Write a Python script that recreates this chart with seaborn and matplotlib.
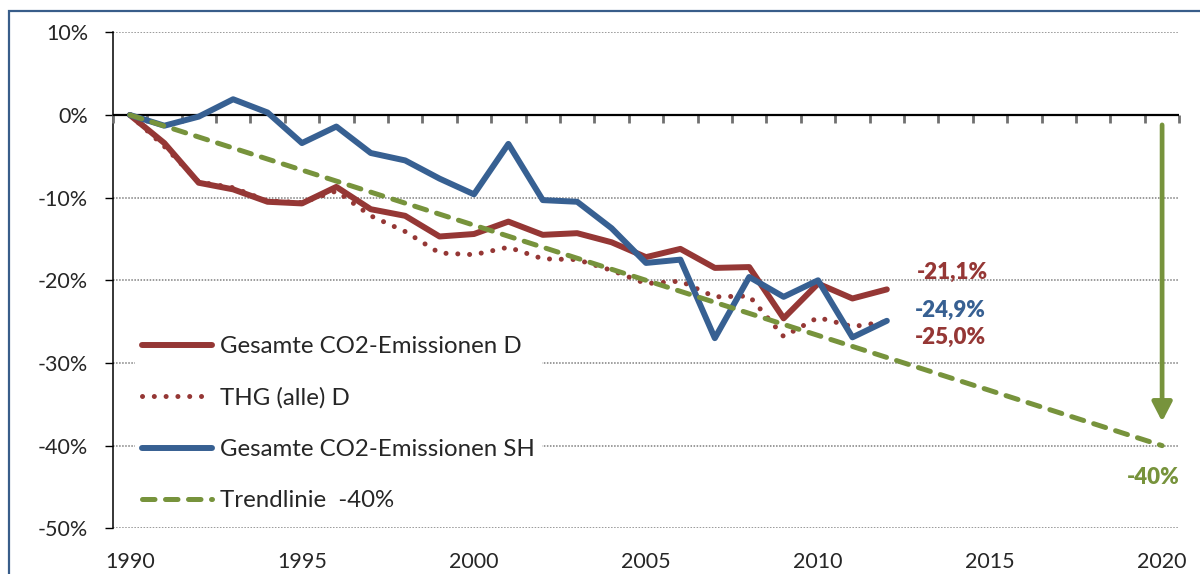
import matplotlib
matplotlib.use("Agg")
import matplotlib.pyplot as plt
import seaborn as sns
import pandas as pd
from matplotlib.patches import Rectangle
from matplotlib.ticker import FuncFormatter

# ---------------- data ----------------
years = list(range(1990, 2013))
co2_d = [0.0, -3.4, -8.2, -9.0, -10.5, -10.7, -8.7, -11.4, -12.2, -14.7, -14.4, -12.9,
         -14.5, -14.3, -15.4, -17.2, -16.2, -18.5, -18.4, -24.6, -20.4, -22.2, -21.1]
thg_d = [0.0, -3.8, -8.1, -8.8, -10.4, -10.6, -9.2, -12.2, -14.1, -16.7, -16.9, -16.0,
         -17.4, -17.5, -18.8, -20.4, -20.1, -22.0, -21.9, -26.8, -24.5, -25.6, -25.0]
co2_sh = [0.0, -1.3, -0.2, 1.9, 0.3, -3.4, -1.4, -4.6, -5.5, -7.7, -9.6, -3.5,
          -10.3, -10.5, -13.7, -17.9, -17.5, -27.0, -19.6, -22.0, -20.0, -26.9, -24.9]
trend_years = [1990, 2020]
trend_vals = [0.0, -40.0]

series_labels = ["Gesamte CO2-Emissionen D", "THG (alle) D",
                 "Gesamte CO2-Emissionen SH", "Trendlinie  -40%"]
end_labels = ["-21,1%", "-24,9%", "-25,0%", "-40%"]
x_ticks = [1990, 1995, 2000, 2005, 2010, 2015, 2020]
y_ticks = [-50, -40, -30, -20, -10, 0, 10]
target = -40.0

RED = "#953735"
BLUE = "#376092"
GREEN = "#77933C"

sns.set_theme(style="white")
plt.rcParams["font.family"] = ["Lato", "DejaVu Sans"]

fig = plt.figure(figsize=(12, 5.74), dpi=100)
ax = fig.add_axes([112.7 / 1200, 1 - 528.3 / 574, (1179.3 - 112.7) / 1200, (528.3 - 32.3) / 574])

df = pd.DataFrame({"year": years, "co2_d": co2_d, "thg_d": thg_d, "co2_sh": co2_sh})
tdf = pd.DataFrame({"year": trend_years, "val": trend_vals})

ax.set_xlim(1989.5, 2020.5)
ax.set_ylim(-50, 10)

# horizontal category axis at 0 % with tick marks between categories (drawn first)
boundaries = [years[0] - 0.5 + i for i in range(trend_years[-1] - years[0] + 2)]
ax.vlines(boundaries, -1.0, 0.0, colors="#707070", linewidths=2.0, zorder=2.6, clip_on=False)
ax.hlines([0.0], trend_years[0] - 0.5, trend_years[-1] + 0.5,
          colors="black", linewidths=1.6, zorder=2.7, clip_on=False)

sns.lineplot(data=df, x="year", y="co2_d", ax=ax, color=RED, lw=4.3,
             solid_capstyle="round", solid_joinstyle="round", label=series_labels[0], zorder=3)
sns.lineplot(data=df, x="year", y="thg_d", ax=ax, color=RED, lw=3.6,
             label=series_labels[1], zorder=3)
sns.lineplot(data=df, x="year", y="co2_sh", ax=ax, color=BLUE, lw=4.3,
             solid_capstyle="round", solid_joinstyle="round", label=series_labels[2], zorder=4)
sns.lineplot(data=tdf, x="year", y="val", ax=ax, color=GREEN, lw=3.6,
             label=series_labels[3], zorder=5)

lines = ax.get_lines()
lines[1].set_linestyle((0, (0.01, 2.35)))
lines[1].set_dash_capstyle("round")
lines[3].set_linestyle((0, (2.5, 2.1)))
lines[3].set_dash_capstyle("round")

ax.set_xlim(1989.5, 2020.5)
ax.set_ylim(-50, 10)
ax.set_xlabel("")
ax.set_ylabel("")

ax.set_yticks(y_ticks)
ax.yaxis.set_major_formatter(FuncFormatter(lambda v, p: f"{v:.0f}%"))
ax.set_xticks(x_ticks)
ax.set_xticklabels([str(t) for t in x_ticks])
ax.tick_params(axis="y", direction="out", length=5.8, width=1, color="black",
               labelsize=15.5, pad=12, left=True)
ax.tick_params(axis="x", length=0, labelsize=15.5, pad=17, bottom=True)

for s in ["top", "right", "bottom"]:
    ax.spines[s].set_visible(False)
ax.spines["left"].set_color("black")
ax.spines["left"].set_linewidth(1.1)

ax.yaxis.grid(True, linestyle=(0, (1, 1)), color="#7f7f7f", lw=1.1)
ax.xaxis.grid(False)
ax.set_axisbelow(True)

# legend
leg = ax.legend(loc="upper left", bbox_to_anchor=(0.0207, 0.402), frameon=True,
                fontsize=17.3, handlelength=2.9, handletextpad=0.33, labelspacing=1.26,
                borderpad=0.3, borderaxespad=0.0)
leg.get_frame().set_facecolor("white")
leg.get_frame().set_edgecolor("none")
leg.get_frame().set_alpha(1)
leg.set_zorder(10)

# end-value labels
lab_kw = dict(fontsize=16, fontweight="heavy", ha="center", va="center")
ax.text(2013.9, -19.1, end_labels[0], color=RED, **lab_kw)
ax.text(2013.85, -23.6, end_labels[1], color=BLUE, **lab_kw)
ax.text(2013.85, -26.85, end_labels[2], color=RED, **lab_kw)
ax.text(2019.74, -43.8, end_labels[3], color=GREEN, **lab_kw)

# arrow to target
ax.annotate("", xy=(trend_years[-1], target + 2.9), xytext=(trend_years[-1], -1.2),
            arrowprops=dict(arrowstyle="-|>,head_length=0.58,head_width=0.3",
                            lw=3.4, color=GREEN, shrinkA=0, shrinkB=0, mutation_scale=20),
            zorder=6)

# outer border
fig.patches.append(Rectangle((9 / 1200, -0.1), 1.2, 1 - 11 / 574 + 0.1,
                             transform=fig.transFigure, fill=False,
                             edgecolor="#385D8A", lw=1.6, zorder=20))

fig.savefig("out.png", dpi=100)
